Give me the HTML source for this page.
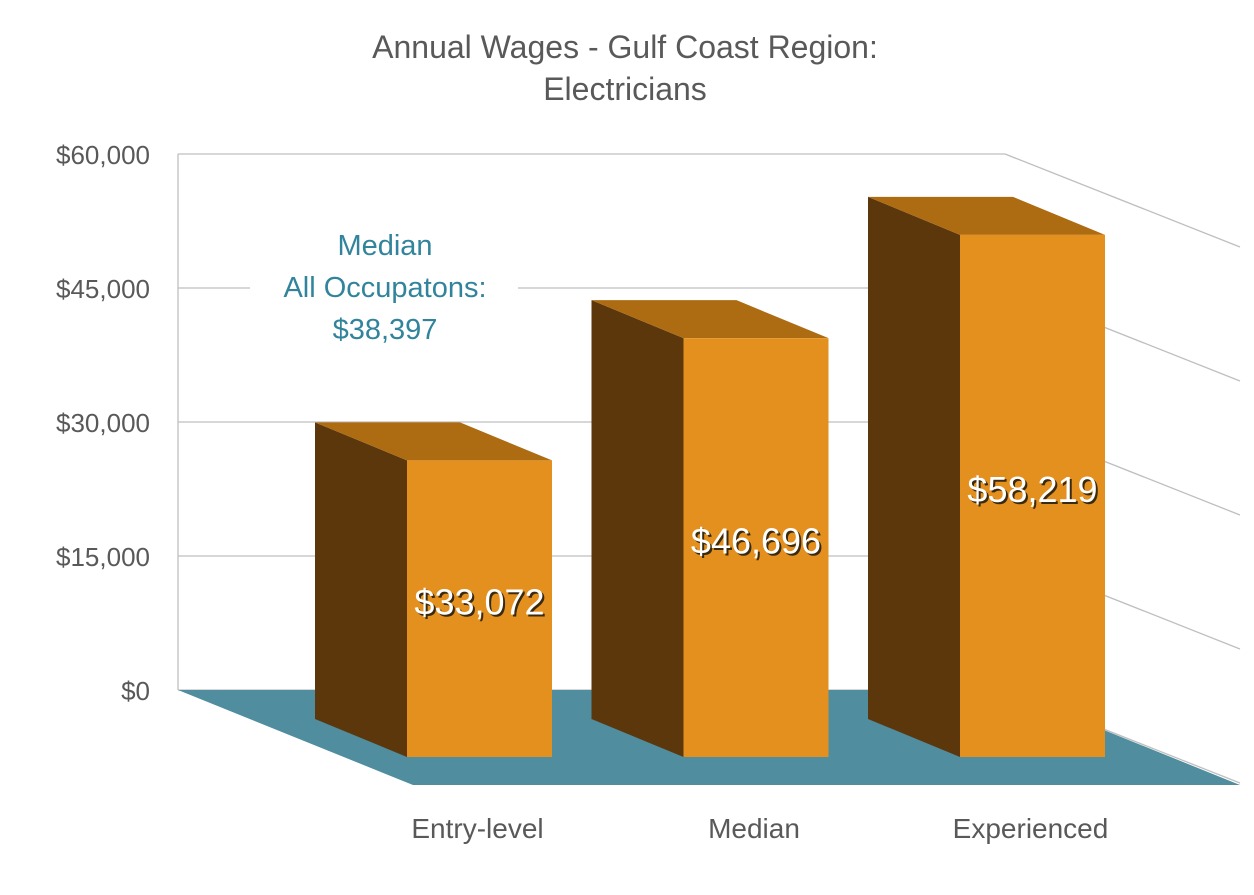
<!DOCTYPE html>
<html><head><meta charset="utf-8"><style>
body{margin:0;background:#fff;}
svg{display:block;font-family:"Liberation Sans",sans-serif;}
</style></head><body>
<svg id="chart" width="1254" height="895" viewBox="0 0 1254 895" xmlns="http://www.w3.org/2000/svg">
<text x="625" y="58" text-anchor="middle" font-size="32" fill="#595959">Annual Wages - Gulf Coast Region:</text>
<text x="625" y="100" text-anchor="middle" font-size="32" fill="#595959">Electricians</text>
<g id="grid"></g>
<g id="floor"></g>
<g id="bars"></g>
<g id="annot"></g>
<g id="labels"></g>
</svg>
<script>
const categories = ["Entry-level","Median","Experienced"];
const values = [33072,46696,58219];
const valueLabels = ["$33,072","$46,696","$58,219"];
const ticks = [0,15000,30000,45000,60000];
const tickLabels = ["$0","$15,000","$30,000","$45,000","$60,000"];
const medianAll = 38397;

const NS="http://www.w3.org/2000/svg";
const x0=178,xBack=1005,yBase=690,yTop=154,maxV=60000;
const DX=235,DY=93;
function yBackScale(v){return yBase-(v/maxV)*(yBase-yTop);}
function h(v){return (v/maxV)*(yBase-yTop);}
function mk(tag,attrs,parent){const e=document.createElementNS(NS,tag);for(const k in attrs)e.setAttribute(k,attrs[k]);parent.appendChild(e);return e;}
const grid=document.getElementById('grid'),floor=document.getElementById('floor'),bars=document.getElementById('bars'),labels=document.getElementById('labels'),annot=document.getElementById('annot');

ticks.forEach((t,i)=>{
  const y=yBackScale(t);
  const l=mk('line',{x1:x0,y1:y,x2:xBack,y2:y,stroke:'#bfbfbf','stroke-width':1.3},grid);
  
  
  const s=mk('line',{x1:xBack,y1:y,x2:xBack+DX,y2:y+DY,stroke:'#bfbfbf','stroke-width':1.3},grid);
  
  
  const tx=mk('text',{x:150,y:y+10,'text-anchor':'end','font-size':26,fill:'#595959'},labels);
  tx.textContent=tickLabels[i];
  
  
});
mk('line',{x1:x0,y1:yTop,x2:x0,y2:yBase,stroke:'#bfbfbf','stroke-width':1.3},grid);

const fl=mk('polygon',{points:`${x0},${yBase} ${xBack},${yBase} ${xBack+DX},${yBase+95} ${x0+DX},${yBase+95}`,fill:'#4F8D9F'},floor);



const frontBase=757,bw=145,bdx=92,bdy=38;
categories.forEach((c,i)=>{
  const fx=407+i*276.5, H=h(values[i])*1.004, ft=frontBase-H;
  const g=mk('g',{},bars);
  
  
  mk('polygon',{points:`${fx-bdx},${ft-bdy} ${fx},${ft} ${fx},${frontBase} ${fx-bdx},${frontBase-bdy}`,fill:'#5C370C'},g);
  mk('polygon',{points:`${fx-bdx},${ft-bdy} ${fx+bw-bdx},${ft-bdy} ${fx+bw},${ft} ${fx},${ft}`,fill:'#AD6B12'},g);
  mk('rect',{x:fx,y:ft,width:bw,height:H,fill:'#E4901E'},g);
  const vy=(ft+frontBase)/2+6;
  const sh=mk('text',{x:fx+bw/2+2,y:vy+2,'text-anchor':'middle','font-size':36,fill:'#3a2a10'},labels);
  sh.textContent=valueLabels[i];
  
  
  const vt=mk('text',{x:fx+bw/2,y:vy,'text-anchor':'middle','font-size':36,fill:'#fff'},labels);
  vt.textContent=valueLabels[i];
  
  
  const ct=mk('text',{x:fx+bw/2-2,y:838,'text-anchor':'middle','font-size':28,fill:'#595959'},labels);
  ct.textContent=c;
  
  
});

const ay=yBackScale(medianAll);
mk('rect',{x:250,y:222,width:268,height:122,fill:'#fff'},annot);
[["Median",255],["All Occupatons:",297],["$"+medianAll.toLocaleString('en-US'),339]].forEach(([t,y])=>{
  const a=mk('text',{x:385,y:y,'text-anchor':'middle','font-size':29,fill:'#31849B'},annot);
  a.textContent=t;
  
  
});
</script>
</body></html>
